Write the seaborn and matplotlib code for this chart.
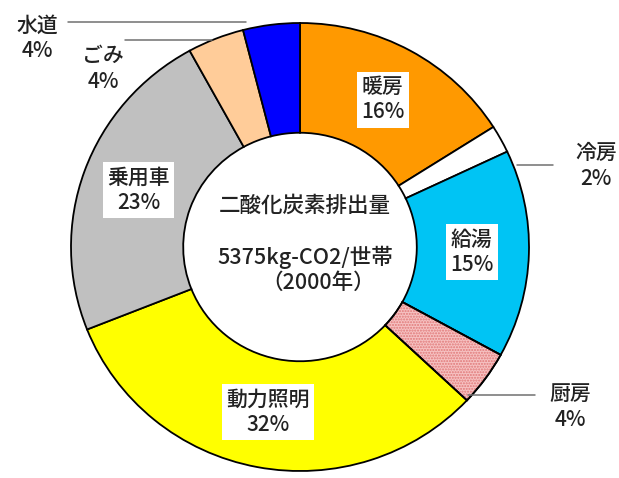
import matplotlib
matplotlib.use("Agg")
import matplotlib.pyplot as plt
import seaborn as sns
import numpy as np
from matplotlib.patches import Wedge

sns.set_theme(style="white")
plt.rcParams['font.family'] = ['Noto Sans CJK JP', 'DejaVu Sans']

# ---- data ----
categories = ["暖房", "冷房", "給湯", "厨房", "動力照明", "乗用車", "ごみ", "水道"]
shares = [16, 2, 15, 4, 32, 23, 4, 4]
colors = ["#ff9900", "#ffffff", "#00c4f4", "#f6c2c2", "#ffff00", "#c0c0c0", "#ffcc99", "#0000ff"]
inside = ["暖房", "給湯", "動力照明", "乗用車"]
center_lines = ["二酸化炭素排出量", "5375kg-CO2/世帯", "（2000年）"]

# ---- layout (pixel geometry of the reference) ----
W, H = 619, 478
CX, CY = 300, 247
SX, SY = 229, 224


def px(x, y):
    return (x - CX) / SX, (CY - y) / SY


fig = plt.figure(figsize=(W / 100, H / 100), dpi=100)
ax = fig.add_axes([0, 0, 1, 1])

wedges, _ = ax.pie(shares, colors=colors, startangle=90, counterclock=False,
                   radius=1.0, center=(0, 0),
                   wedgeprops=dict(width=0.49, edgecolor='black', linewidth=1.3))

ax.set_aspect('auto')
ax.set_xlim(px(0, 0)[0], px(W, 0)[0])
ax.set_ylim(px(0, H)[1], px(0, 0)[1])
ax.axis('off')

# hatch overlay for 厨房
k = categories.index("厨房")
w = wedges[k]
ax.add_patch(Wedge(w.center, w.r, w.theta1, w.theta2, width=w.width,
                   facecolor='none', edgecolor='#e07878', hatch='......', lw=0))
ax.add_patch(Wedge(w.center, w.r, w.theta1, w.theta2, width=w.width,
                   facecolor='none', edgecolor='black', lw=1.3))

TXT = dict(color='#222222', fontweight='medium')

# inside labels
for name in inside:
    i = categories.index(name)
    wd = wedges[i]
    ang = np.deg2rad((wd.theta1 + wd.theta2) / 2)
    r = 0.75
    ax.text(r * np.cos(ang), r * np.sin(ang), f"{name}\n{shares[i]}%",
            ha='center', va='center', fontsize=15, linespacing=1.2,
            bbox=dict(facecolor='white', edgecolor='none', pad=3), **TXT)

# outside labels with leader lines
outside = {
    "水道": dict(text=(37, 38), line=((68, 22), (246, 22))),
    "ごみ": dict(text=(103, 69), line=((125, 40), (212, 40))),
    "冷房": dict(text=(596, 166), line=((517, 165), (553, 165))),
    "厨房": dict(text=(570, 407), line=((468, 395), (535, 395))),
}
for name, spec in outside.items():
    i = categories.index(name)
    tx, ty = px(*spec['text'])
    ax.text(tx, ty, f"{name}\n{shares[i]}%", ha='center', va='center',
            fontsize=15, linespacing=1.2, **TXT)
    (x1, y1), (x2, y2) = spec['line']
    a, b = px(x1, y1)
    c, d = px(x2, y2)
    ax.plot([a, c], [b, d], color='#707070', lw=1.1)

# center text
ax.text(*px(305, 206), center_lines[0], ha='center', va='center', fontsize=15.5, **TXT)
ax.text(*px(305, 257), center_lines[1], ha='center', va='center', fontsize=15.5, **TXT)
ax.text(*px(318, 283), center_lines[2], ha='center', va='center', fontsize=15.5, **TXT)

fig.savefig("out.png", dpi=100)
